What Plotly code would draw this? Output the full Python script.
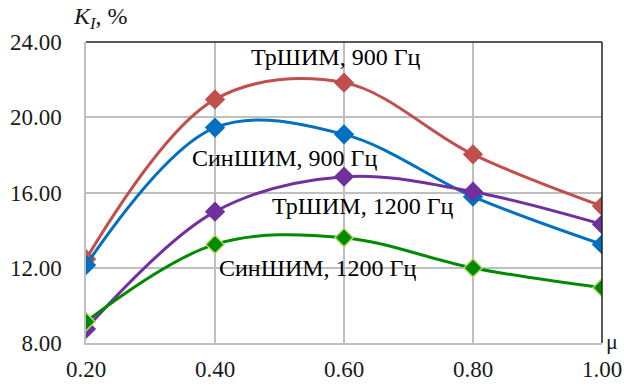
import plotly.graph_objects as go

mu = [0.20, 0.40, 0.60, 0.80, 1.00]
tr900 = [12.46, 20.95, 21.84, 18.03, 15.28]
sin900 = [12.14, 19.45, 19.09, 15.78, 13.24]
tr1200 = [8.75, 14.98, 16.84, 16.04, 14.31]
sin1200 = [9.13, 13.24, 13.60, 11.99, 10.94]
x_ticks = ["0.20", "0.40", "0.60", "0.80", "1.00"]
y_vals = [8, 12, 16, 20, 24]
y_ticks = ["8.00", "12.00", "16.00", "20.00", "24.00"]

series = [
    ("ТрШИМ, 900 Гц", tr900, "#C0504D", "#C0504D"),
    ("СинШИМ, 900 Гц", sin900, "#0070C0", "#0070C0"),
    ("ТрШИМ, 1200 Гц", tr1200, "#7030A0", "#7030A0"),
    ("СинШИМ, 1200 Гц", sin1200, "#008A00", "#B5D56A"),
]

label_pos = [
    ("ТрШИМ, 900 Гц", 0.5876, 23.2),
    ("СинШИМ, 900 Гц", 0.5085, 17.85),
    ("ТрШИМ, 1200 Гц", 0.6287, 15.28),
    ("СинШИМ, 1200 Гц", 0.559, 12.0),
]

fig = go.Figure()
for name, ys, col, mcol in series:
    fig.add_trace(go.Scatter(
        x=mu, y=ys, mode="lines+markers", name=name,
        line=dict(color=col, width=3, shape="spline", smoothing=1.0),
        marker=dict(symbol="diamond", size=14, color=col,
                    line=dict(color=mcol, width=1.5)),
    ))

serif = "Liberation Serif"
for text, x, y in label_pos:
    fig.add_annotation(x=x, y=y, text=text, showarrow=False,
                       font=dict(family=serif, size=24, color="black"))

fig.add_annotation(xref="paper", yref="paper", x=-0.03, y=1.0, yanchor="bottom",
                   xanchor="left", yshift=7, text="<i>K<sub>I</sub></i>, %", showarrow=False,
                   font=dict(family=serif, size=24, color="#1a1a1a"))
fig.add_annotation(xref="paper", yref="paper", x=1.003, y=0.0, yanchor="middle",
                   xanchor="left", yshift=2, text="μ", showarrow=False,
                   font=dict(family=serif, size=22, color="#1a1a1a"))

fig.add_shape(type="line", xref="paper", yref="paper", x0=0, x1=1, y0=1, y1=1,
              line=dict(color="#222222", width=1.5))
fig.add_shape(type="line", xref="paper", yref="paper", x0=1, x1=1, y0=0, y1=1,
              line=dict(color="#222222", width=1.5))

fig.update_layout(
    width=624, height=387,
    margin=dict(l=86, r=22, t=42, b=44),
    paper_bgcolor="white", plot_bgcolor="white",
    showlegend=False,
)
fig.update_xaxes(range=[0.2, 1.0], tickvals=mu, ticktext=x_ticks,
                 showgrid=True, gridcolor="#BFBFBF", gridwidth=1.5, zeroline=False,
                 showline=True, linecolor="#BFBFBF", linewidth=1.5, automargin=False,
                 tickfont=dict(family=serif, size=23, color="#1a1a1a"), ticks="", ticklen=0,
                 ticklabelstandoff=5)
fig.update_yaxes(range=[8, 24], tickvals=y_vals, ticktext=y_ticks,
                 showgrid=True, gridcolor="#BFBFBF", gridwidth=1.5, zeroline=False,
                 showline=True, linecolor="#BFBFBF", linewidth=1.5, automargin=False,
                 tickfont=dict(family=serif, size=23, color="#1a1a1a"), ticks="", ticklen=0,
                 ticklabelstandoff=18)

fig.write_html("out.html")
